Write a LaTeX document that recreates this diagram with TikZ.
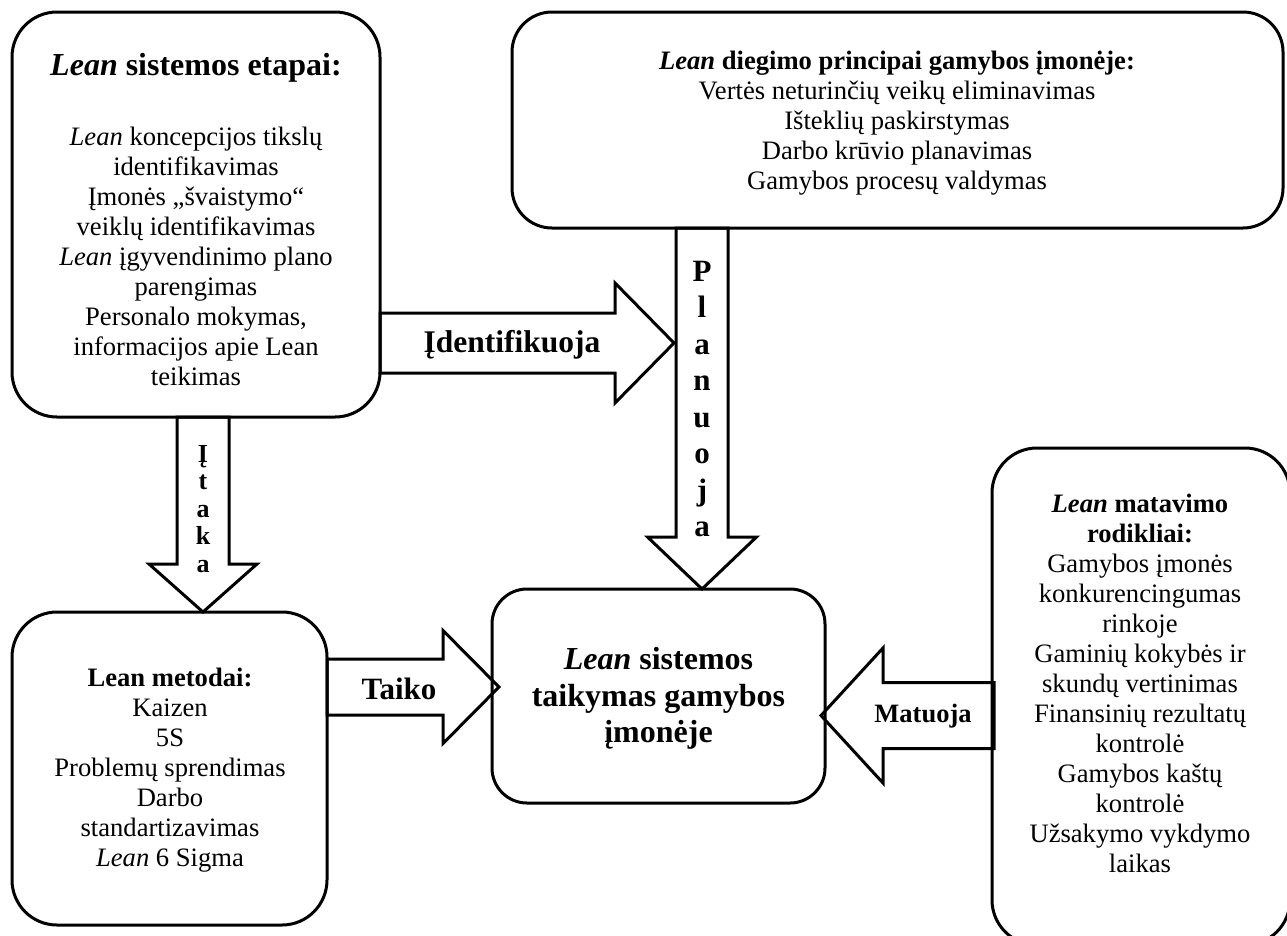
\documentclass[tikz,border=0pt]{standalone}
\usepackage{fontspec}
\setmainfont{Liberation Serif}
\usetikzlibrary{calc}
\tikzset{
  box/.style={draw, line width=3pt, outer sep=0pt, inner sep=0pt},
  arrowline/.style={draw, line width=3pt, line join=miter},
  body/.style={align=center, font=\fontsize{26.6}{30}\selectfont, inner sep=0pt},
  bigbold/.style={align=center, font=\fontsize{32}{36.5}\selectfont\bfseries, inner sep=0pt},
}
\newcommand\blockarr[5]{%
  \coordinate (hb) at ($(#2)!#5!(#1)$);
  \draw[arrowline] ($(#1)!#3!90:(#2)$) -- ($(hb)!#3!-90:(#1)$) -- ($(hb)!#4!-90:(#1)$) -- (#2)
    -- ($(hb)!#4!90:(#1)$) -- ($(hb)!#3!90:(#1)$) -- ($(#1)!#3!-90:(#2)$) -- cycle;}
\begin{document}
\begin{tikzpicture}[x=1pt,y=-1pt]
\useasboundingbox (0,0) rectangle (1287,935);
\clip (0,0) rectangle (1287,935);
% boxes
\node[box, rounded corners=45pt, minimum width=368pt, minimum height=405pt] (A) at (196,214.5) {};
\node[box, rounded corners=40pt, minimum width=771pt, minimum height=216pt] (B) at (897.5,120) {};
\node[box, rounded corners=45pt, minimum width=315pt, minimum height=313pt] (C) at (169.5,768.5) {};
\node[box, rounded corners=35pt, minimum width=333pt, minimum height=214pt] (D) at (658.5,696) {};
\node[box, rounded corners=45pt, minimum width=298pt, minimum height=497pt] (E) at (1141,696.5) {};
% box texts
\node[body] (At) at (196,220) {{\fontsize{32}{36}\selectfont\bfseries\textit{Lean} sistemos etapai:}\\[40pt]
  \textit{Lean} koncepcijos tikslų\\ identifikavimas\\ Įmonės „švaistymo“\\ veiklų identifikavimas\\
  \textit{Lean} įgyvendinimo plano\\ parengimas\\ Personalo mokymas,\\ informacijos apie Lean\\ teikimas};
\node[body] (Bt) at (897,123) {{\bfseries\textit{Lean} diegimo principai gamybos įmonėje:}\\
  Vertės neturinčių veikų eliminavimas\\ Išteklių paskirstymas\\ Darbo krūvio planavimas\\ Gamybos procesų valdymas};
\node[body] (Ct) at (170,770) {{\bfseries Lean metodai:}\\ Kaizen\\ 5S\\ Problemų sprendimas\\ Darbo\\ standartizavimas\\ \textit{Lean} 6 Sigma};
\node[bigbold] (Dt) at (658.5,698.5) {\textit{Lean} sistemos\\ taikymas gamybos\\ įmonėje};
\node[body] (Et) at (1140,683) {{\bfseries\textit{Lean} matavimo}\\ {\bfseries rodikliai:}\\ Gamybos įmonės\\ konkurencingumas\\ rinkoje\\
  Gaminių kokybės ir\\ skundų vertinimas\\ Finansinių rezultatų\\ kontrolė\\ Gamybos kaštų\\ kontrolė\\ Užsakymo vykdymo\\ laikas};
% block arrows
\coordinate (idT) at (674,343);
\coordinate (idS) at (A.east |- idT);
\blockarr{idS}{idT}{30pt}{60pt}{59pt}
\coordinate (plT) at (702,0 |- D.north);
\coordinate (plS) at (plT |- B.south);
\blockarr{plS}{plT}{26pt}{54.5pt}{52pt}
\coordinate (itT) at (203,0 |- C.north);
\coordinate (itS) at (itT |- A.south);
\blockarr{itS}{itT}{26pt}{54pt}{48pt}
\coordinate (taT) at (499,687);
\coordinate (taS) at (C.east |- taT);
\blockarr{taS}{taT}{28pt}{56.5pt}{56pt}
\coordinate (maT) at (821,715.5);
\coordinate (maS) at ($(E.west |- maT)+(2,0)$);
\blockarr{maS}{maT}{33pt}{67.5pt}{62pt}
% arrow labels
\node[font=\fontsize{31.5}{36}\selectfont\bfseries, inner sep=0pt] (idL) at (512,345) {Įdentifikuoja};
\node[font=\fontsize{31}{36}\selectfont\bfseries, inner sep=0pt] (taL) at (399,689) {Taiko};
\node[font=\fontsize{26.5}{30}\selectfont\bfseries, inner sep=0pt] (maL) at (923,716) {Matuoja};
\node[align=center, font=\fontsize{31}{36.5}\selectfont\bfseries, inner sep=0pt] (plL) at (702,399) {P\\l\\a\\n\\u\\o\\j\\a};
\node[align=center, font=\fontsize{26}{27.5}\selectfont\bfseries, inner sep=0pt] (itL) at (203,509) {Į\\t\\a\\k\\a};
\end{tikzpicture}
\end{document}
